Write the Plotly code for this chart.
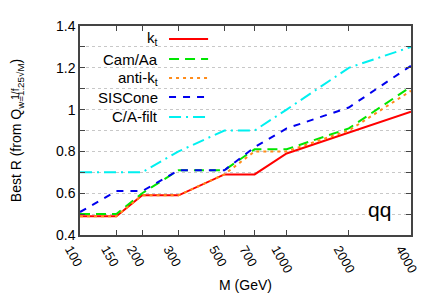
import plotly.graph_objects as go

masses = [100, 150, 200, 300, 500, 700, 1000, 2000, 4000]
kt = [0.49, 0.49, 0.59, 0.59, 0.69, 0.69, 0.79, 0.89, 0.99]
camaa = [0.50, 0.50, 0.60, 0.71, 0.71, 0.81, 0.81, 0.91, 1.11]
antikt = [0.49, 0.49, 0.59, 0.59, 0.69, 0.80, 0.80, 0.90, 1.09]
siscone = [0.51, 0.61, 0.61, 0.71, 0.71, 0.82, 0.91, 1.01, 1.21]
cafilt = [0.70, 0.70, 0.70, 0.80, 0.90, 0.90, 1.00, 1.20, 1.30]

names = ["k<sub>t</sub>", "Cam/Aa", "anti-k<sub>t</sub>", "SISCone", "C/A-filt"]
series = [kt, camaa, antikt, siscone, cafilt]
colors = ["#ff0000", "#00e600", "#ff8c1a", "#0000ee", "#00f0f0"]
dashes = ["solid", "10px,6px", "3px,4px", "7px,7px", "12px,5px,2px,5px"]

xticks = [100, 150, 200, 300, 500, 700, 1000, 2000, 4000]
yticks = [0.4, 0.5, 0.6, 0.7, 0.8, 0.9, 1.0, 1.1, 1.2, 1.3, 1.4]
ylabels = ["0.4", "", "0.6", "", "0.8", "", "1", "", "1.2", "", "1.4"]

font = "Liberation Sans, Arial, sans-serif"

fig = go.Figure()
for n, s, c, d in zip(names, series, colors, dashes):
    fig.add_trace(go.Scatter(x=masses, y=s, mode="lines", name=n,
                             line=dict(color=c, width=2, dash=d),
                             showlegend=False))

# gnuplot-style key: text right-aligned, sample to the right
key_y = [0.938, 0.842, 0.751, 0.660, 0.565]
for n, c, d, ky in zip(names, colors, dashes, key_y):
    fig.add_annotation(x=0.2417, y=ky, xref="paper", yref="paper",
                       text=n, showarrow=False, xanchor="right",
                       yanchor="middle", font=dict(size=15, color="#000"))
    fig.add_shape(type="line", xref="paper", yref="paper",
                  x0=0.269, x1=0.387, y0=ky, y1=ky,
                  line=dict(color=c, width=2, dash=d))

fig.add_annotation(x=0.946, y=0.12, xref="paper", yref="paper", text="qq",
                   showarrow=False, xanchor="right", yanchor="middle",
                   font=dict(size=21, color="#000"))

fig.add_annotation(x=-0.194, y=0.675, xref="paper", yref="paper", text="1/f",
                   showarrow=False, textangle=-90, xanchor="center",
                   yanchor="middle", font=dict(size=10, color="#000"))

fig.update_layout(
    width=425, height=298,
    margin=dict(l=72, r=22, t=18, b=71),
    paper_bgcolor="white", plot_bgcolor="white",
    font=dict(family=font, size=14, color="#000"),
    xaxis=dict(type="log", range=[2, 3.60206], tickvals=xticks,
               ticktext=[str(v) for v in xticks], tickangle=60,
               tickfont=dict(size=13), ticklabelshift=-10,
               ticks="inside", ticklen=5, tickcolor="#444", automargin=False,
               showline=True, linecolor="#444", linewidth=1.5, mirror="ticks",
               showgrid=False, zeroline=False,
               title=dict(text="M (GeV)", standoff=6, font=dict(size=14))),
    yaxis=dict(range=[0.4, 1.4], tickvals=yticks, ticktext=ylabels,
               ticks="inside", ticklen=5, tickcolor="#444", automargin=False,
               showline=True, linecolor="#444", linewidth=1.5, mirror="ticks",
               showgrid=True, gridcolor="#c8c8c8", griddash="dot", gridwidth=1,
               zeroline=False,
               title=dict(text="Best R (from Q<sub>w=1.25\u221aM</sub>)",
                          standoff=39, font=dict(size=14))),
)

fig.write_html("out.html")
